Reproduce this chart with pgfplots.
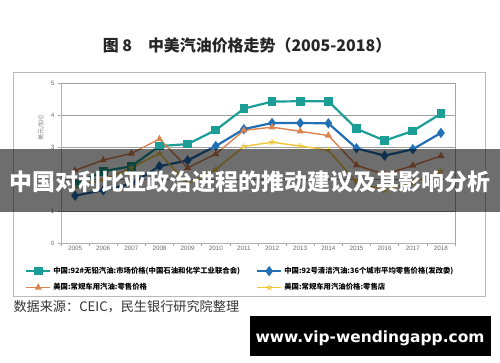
\documentclass[border=0pt]{standalone}
\usepackage{fontspec}
\usepackage{pgfplots}
\pgfplotsset{compat=1.18}
\newfontfamily\cjk{Noto Sans CJK SC}
\newfontfamily\lib{Liberation Sans}
\newfontfamily\dv{DejaVu Sans}
\definecolor{cteal}{HTML}{1C9E96}
\definecolor{cblue}{HTML}{2170B5}
\definecolor{cbrown}{HTML}{DC8450}
\definecolor{cyellow}{HTML}{F0C63A}
\pgfplotstableread{
x teal blue brown yellow
0 1.85 1.48 2.27 1.75
1 2.24 1.65 2.59 1.97
2 2.40 1.85 2.80 2.35
3 3.03 2.40 3.25 2.80
4 3.09 2.58 2.35 1.85
5 3.53 3.03 2.78 2.30
6 4.20 3.56 3.52 3.02
7 4.42 3.75 3.62 3.15
8 4.43 3.75 3.49 3.03
9 4.43 3.74 3.36 2.90
10 3.57 2.96 2.43 1.90
11 3.20 2.73 2.14 1.65
12 3.50 2.93 2.42 1.90
13 4.04 3.44 2.72 2.25
}\datatable
\begin{document}
\begin{tikzpicture}[x=1bp,y=1bp]
\fill[white] (0,0) rectangle (500,362);
\node[font=\cjk\bfseries\fontsize{16}{18}\selectfont, text=black!85] at (247,317) {图 8\quad 中美汽油价格走势（2005-2018）};
\draw[gray!55, line width=0.9bp] (13,66) rectangle (485,290);
\begin{axis}[
  at={(61bp,119bp)}, anchor=south west, scale only axis,
  width=394bp, height=160bp,
  xmin=-0.5, xmax=13.5, ymin=0, ymax=5,
  xtick={-0.5,0.5,...,13.5}, xticklabels={},
  extra x ticks={0,...,13},
  extra x tick labels={2005,2006,2007,2008,2009,2010,2011,2012,2013,2014,2015,2016,2017,2018},
  extra x tick style={major tick length=0pt, grid=none},
  ytick={0,1,2,3,4,5},
  ymajorgrids, grid style={gray!75, line width=0.6bp},
  tick align=outside, major tick length=3bp,
  tick style={gray!70, line width=0.5bp},
  axis line style={gray!60, line width=0.6bp},
  axis x line*=bottom, axis y line*=left,
  tick label style={font=\lib\fontsize{6.3}{7}\selectfont, text=gray!85!black},
  /pgf/number format/assume math mode=true,
  ylabel={美元/加仑},
  ylabel style={at={(ticklabel cs:0.72)}, font=\cjk\fontsize{6}{7}\selectfont, text=gray},
  legend columns=2,
  legend cell align=left,
  legend style={at={(-0.099,-0.125)}, anchor=north west, draw=none, fill=none,
    font=\cjk\bfseries\fontsize{7.4}{8.5}\selectfont, row sep=4.5bp,
    /tikz/every even column/.append style={column sep=14bp}},
  legend image code/.code={\draw[mark repeat=2,mark phase=2,#1] plot coordinates {(0bp,0bp)(12bp,0bp)(24bp,0bp)};},
]
\addplot[cteal, line width=2.2bp, mark=square*, mark size=3.2bp] table[x=x,y=teal]{\datatable};
\addlegendentry{中国:92\#无铅汽油:市场价格(中国石油和化学工业联合会)}
\addplot[cblue, line width=2.2bp, mark=diamond*, mark size=3.4bp] table[x=x,y=blue]{\datatable};
\addlegendentry{中国:92号清洁汽油:36个城市平均零售价格(发改委)}
\addplot[cbrown, line width=1.4bp, mark=triangle*, mark size=2.8bp] table[x=x,y=brown]{\datatable};
\addlegendentry{美国:常规车用汽油:零售价格}
\addplot[cyellow, line width=1.4bp, mark=star, mark size=3bp, mark options={line width=1bp}] table[x=x,y=yellow]{\datatable};
\addlegendentry{美国:常规车用汽油价格:零售店}
\end{axis}
\draw[gray!70, line width=0.6bp] (455,119) -- (455,279);
\node[anchor=west, font=\cjk\fontsize{13.2}{15}\selectfont, text=black!80] at (10,55) {数据来源：CEIC，民生银行研究院整理};
\fill[black, opacity=0.57] (0,150) rectangle (500,213);
\node[text=white, font=\cjk\bfseries\fontsize{23}{26}\selectfont] at (250,180) {中国对利比亚政治进程的推动建议及其影响分析};
\fill[black] (250,6) rectangle (491,46);
\node[text=white, font=\dv\bfseries\fontsize{15.5}{18}\selectfont] at (370,24) {www.vip-wendingapp.com};
\end{tikzpicture}
\end{document}
